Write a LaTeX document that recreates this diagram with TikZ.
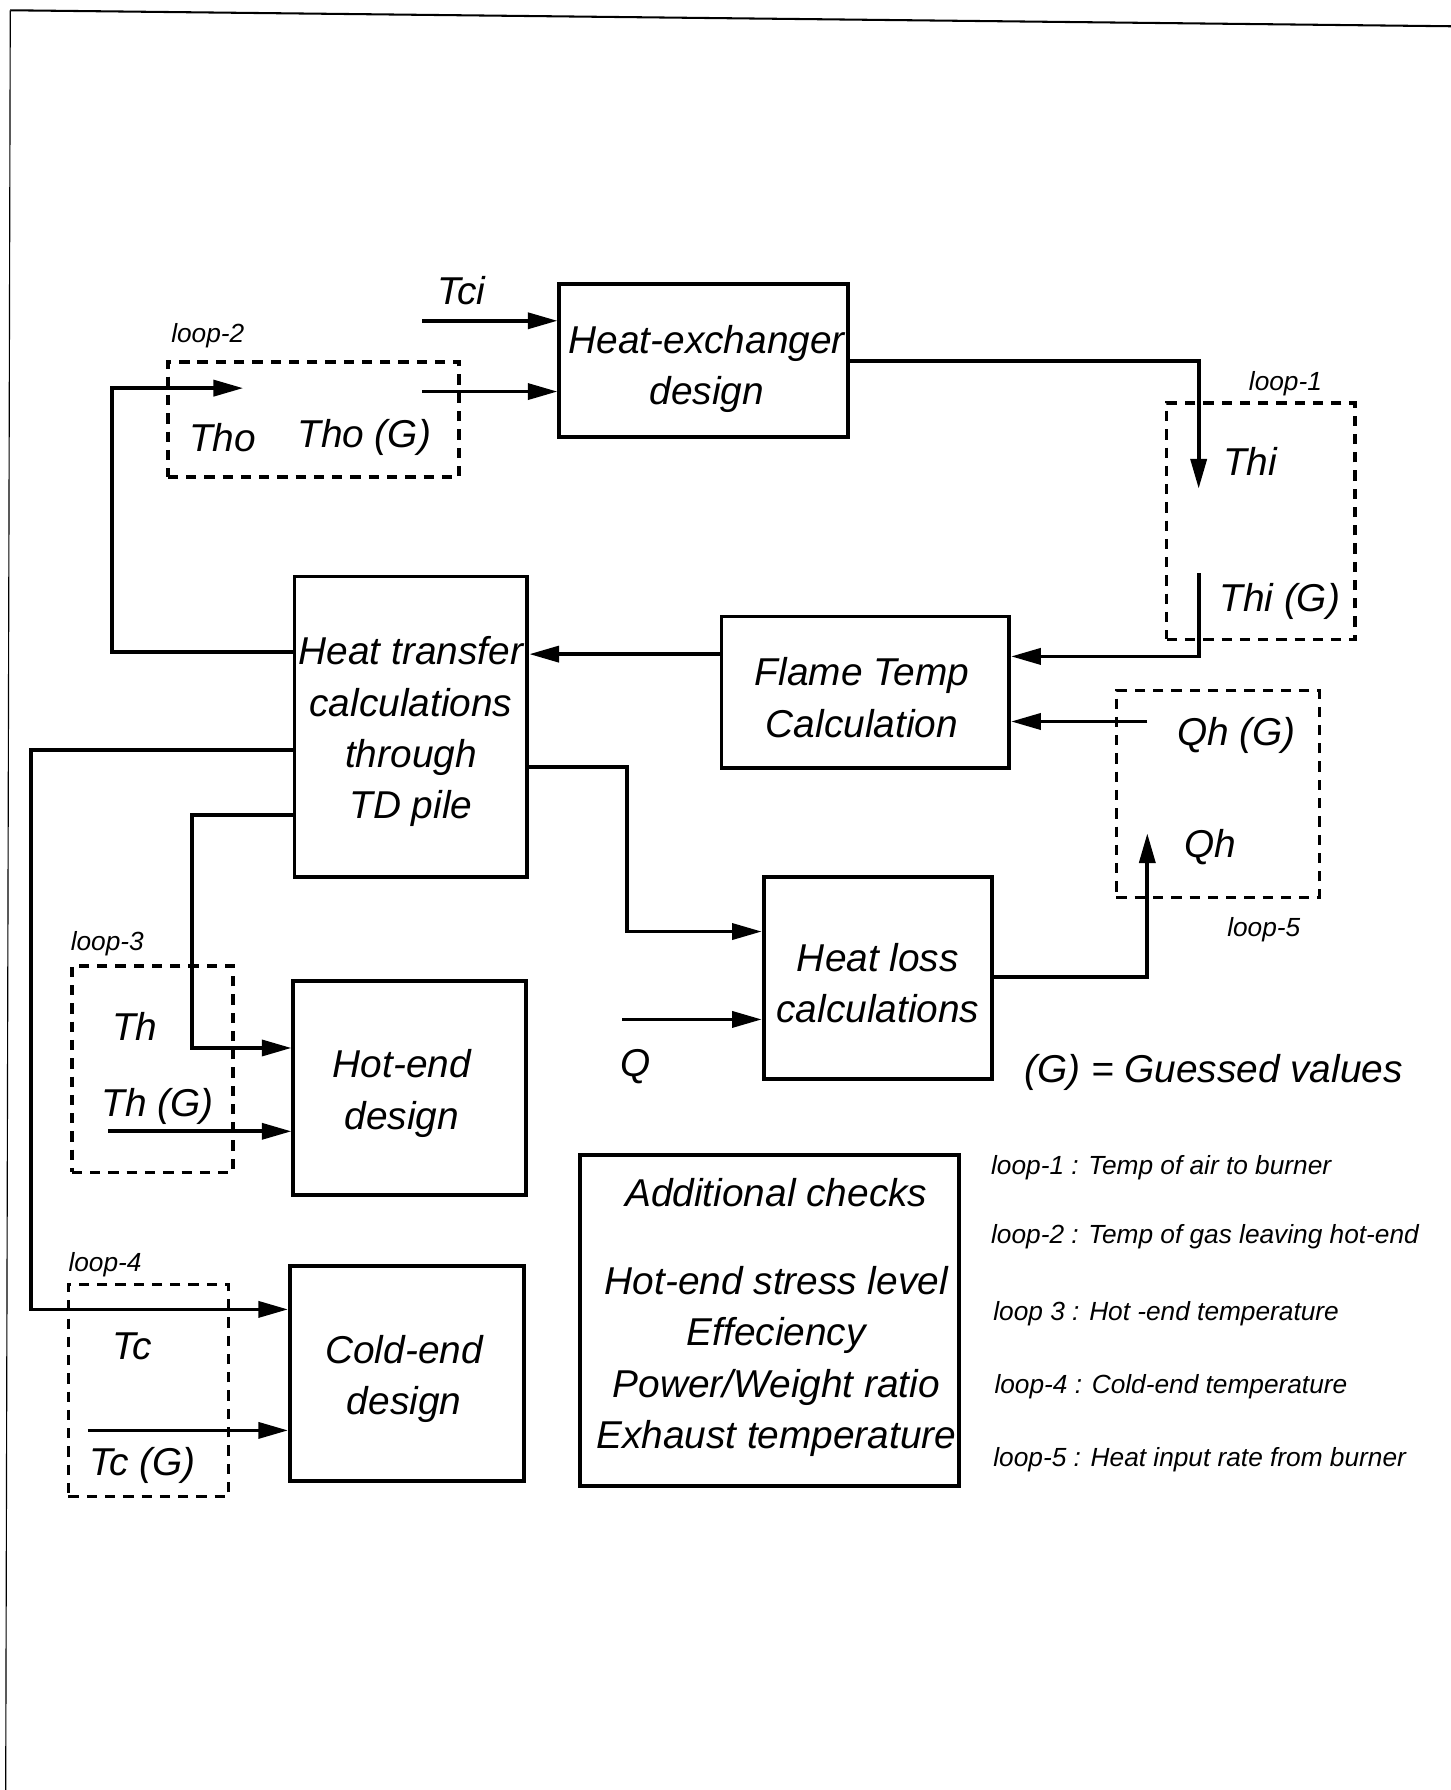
\documentclass[tikz,border=0pt]{standalone}
\usepackage{fontspec}
\setmainfont{Liberation Sans}
\usetikzlibrary{arrows.meta,calc}
\newcommand\bigtxt{\fontsize{34}{45}\selectfont\itshape}
\newcommand\smalltxt{\fontsize{23}{28}\selectfont\itshape}
\begin{document}
\begin{tikzpicture}[x=1pt,y=-1pt,
  box/.style={draw, line width=3.4pt, rectangle, inner sep=0pt},
  loopbox/.style={draw, dash pattern=on 9pt off 7pt, line width=3pt, rectangle, inner sep=0pt},
  arr/.style={line width=3.2pt, -{Triangle[length=26pt,width=14pt]}},
  lbl/.style={font=\bigtxt, inner sep=0pt, align=center},
  small/.style={font=\smalltxt, inner sep=0pt},
  border/.style={line width=1.8pt}]
\useasboundingbox (0,0) rectangle (1271,1568);
% page border of the scan
\draw[border] (9,9) -- (1271,23);
\draw[line width=1pt] (9,9) -- (5,1568);

% boxes
\node[box, minimum width=253pt, minimum height=134pt] (hx) at (616.5,316) {};
\node[box, minimum width=204pt, minimum height=263pt] (ht) at (360,636.5) {};
\node[box, minimum width=252pt, minimum height=133pt] (ft) at (758,606.5) {};
\node[box, minimum width=200pt, minimum height=177pt] (hl) at (769,856.5) {};
\node[box, minimum width=204pt, minimum height=188pt] (he) at (359,953) {};
\node[box, minimum width=205pt, minimum height=188pt] (ce) at (356.5,1203) {};
\node[box, minimum width=332pt, minimum height=290pt] (ac) at (674,1157) {};

% box texts
\node[lbl] (hxT) at (619,323) {Heat-exchanger\\design};
\node[lbl] (htT) at (360,641) {Heat transfer\\calculations\\through\\TD pile};
\node[lbl] (ftT) at (755,611) {Flame Temp\\Calculation};
\node[lbl] (hlT) at (769,861) {Heat loss\\calculations};
\node[lbl] (heT) at (352,958) {Hot-end\\design};
\node[lbl] (ceT) at (354,1208) {Cold-end\\design};
\node[lbl] (acT) at (680,1154) {Additional checks\\[32pt]Hot-end stress level\\Effeciency\\Power/Weight ratio\\Exhaust temperature};

% dashed loop boxes
\node[loopbox, minimum width=255pt, minimum height=101pt] (l2) at (274.5,367.5) {};
\node[loopbox, minimum width=165pt, minimum height=207pt] (l1) at (1104.5,456.5) {};
\node[loopbox, minimum width=178pt, minimum height=181pt] (l5) at (1067,695.5) {};
\node[loopbox, minimum width=141pt, minimum height=181pt] (l3) at (133.5,936.5) {};
\node[loopbox, minimum width=140pt, minimum height=186pt] (l4) at (130,1218) {};

% loop labels
\node[small] (l2lab) at (182,294) {loop-2};
\node[small] (l1lab) at (1126,336) {loop-1};
\node[small] (l5lab) at (1107,814) {loop-5};
\node[small] (l3lab) at (94,827) {loop-3};
\node[small] (l4lab) at (92,1108) {loop-4};

% variable labels
\node[lbl] (tci) at (404,255) {Tci};
\node[lbl] (tho) at (195,383) {Tho};
\node[lbl] (thog) at (319,383) {Tho (G)};
\node[lbl] (thi) at (1095,404) {Thi};
\node[lbl] (thig) at (1121,527) {Thi (G)};
\node[lbl] (qhg) at (1083,644) {Qh (G)};
\node[lbl] (qh) at (1060,742) {Qh};
\node[lbl] (q) at (557,934) {Q};
\node[lbl] (guess) at (1063,939) {(G) = Guessed values};
\node[lbl] (th) at (118,899) {Th};
\node[lbl] (thg) at (138,969) {Th (G)};
\node[lbl] (tc) at (116,1179) {Tc};
\node[lbl] (tcg) at (125,1284) {Tc (G)};

% legend
\node[small, anchor=west] (lg1) at (868,1023) {loop-1 : Temp of air to burner};
\node[small, anchor=west] (lg2) at (868,1083) {loop-2 : Temp of gas leaving hot-end};
\node[small, anchor=west] (lg3) at (870,1151) {loop 3 : Hot -end temperature};
\node[small, anchor=west] (lg4) at (871,1215) {loop-4 : Cold-end temperature};
\node[small, anchor=west] (lg5) at (870,1279) {loop-5 : Heat input rate from burner};

% helper coordinates
\coordinate (tciS) at (370,281);
\coordinate (thogS) at (370,343);
\coordinate (c571) at (98,571);
\coordinate (thoE) at (213,340);
\coordinate (thiE) at (1050,428);
\coordinate (thigS) at (1050,502);
\coordinate (c575) at (1050,575);
\coordinate (qhgS) at (1005,632);
\coordinate (c573) at (0,573);
\coordinate (c672) at (549,672);
\coordinate (c816) at (549,816);
\coordinate (qS) at (545,893);
\coordinate (c856) at (1005,856);
\coordinate (qhE) at (1005,730);
\coordinate (c657) at (27,657);
\coordinate (c1147) at (27,1147);
\coordinate (c714) at (168,714);
\coordinate (c918) at (168,918);
\coordinate (thgS) at (95,991);
\coordinate (tcgS) at (77,1253);

% connectors
\draw[arr] (tciS) -- (tciS -| hx.west);
\draw[arr] (thogS) -- (thogS -| hx.west);
\draw[arr] (c571 -| ht.west) -- (c571) -- (c571 |- thoE) -- (thoE);
\draw[arr] (hx.east) -- (hx.east -| thiE) -- (thiE);
\draw[arr] (thigS) -- (c575) -- (c575 -| ft.east);
\draw[arr] (qhgS) -- (qhgS -| ft.east);
\draw[arr] (c573 -| ft.west) -- (c573 -| ht.east);
\draw[arr] (c672 -| ht.east) -- (c672) -- (c816) -- (c816 -| hl.west);
\draw[arr] (qS) -- (qS -| hl.west);
\draw[arr] (c856 -| hl.east) -- (c856) -- (qhE);
\draw[arr] (c657 -| ht.west) -- (c657) -- (c1147) -- (c1147 -| ce.west);
\draw[arr] (c714 -| ht.west) -- (c714) -- (c918) -- (c918 -| he.west);
\draw[arr] (thgS) -- (thgS -| he.west);
\draw[arr] (tcgS) -- (tcgS -| ce.west);
\end{tikzpicture}
\end{document}
